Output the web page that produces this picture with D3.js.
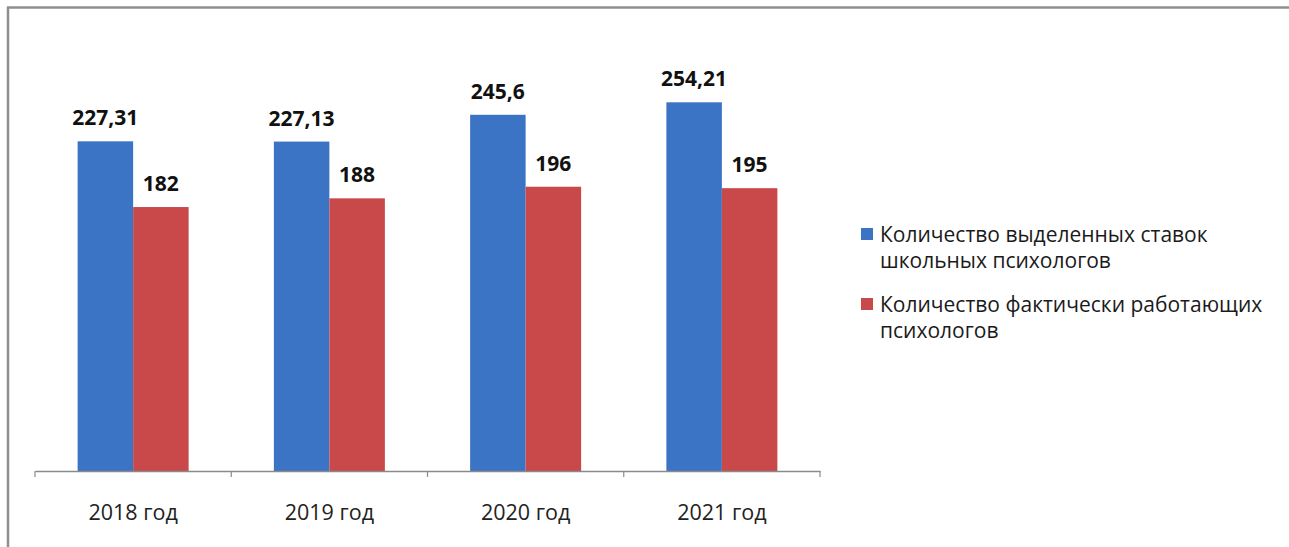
<!DOCTYPE html>
<html><head><meta charset="utf-8">
<script src="https://cdn.jsdelivr.net/npm/d3@7/dist/d3.min.js"></script>
<style>html,body{margin:0;padding:0;background:#fff;}svg{display:block;}</style>
</head><body>
<script>
const categories = ["2018 год", "2019 год", "2020 год", "2021 год"];
const seriesNames = ["Количество выделенных ставок школьных психологов", "Количество фактически работающих психологов"];
const allocated = [227.31, 227.13, 245.6, 254.21];
const working = [182, 188, 196, 195];
const allocatedLabels = ["227,31", "227,13", "245,6", "254,21"];
const workingLabels = ["182", "188", "196", "195"];
const legendLines = [["Количество выделенных ставок", "школьных психологов"], ["Количество фактически работающих", "психологов"]];
const colors = ["#3b74c4", "#c94849"];

const W = 1289, H = 547;
const svg = d3.select("body").append("svg").attr("width", W).attr("height", H);
const font = "'Open Sans', 'Noto Sans', sans-serif";

// frame
svg.append("line").attr("x1", 7).attr("x2", W).attr("y1", 7.5).attr("y2", 7.5).attr("stroke", "#8f8f8f").attr("stroke-width", 2.5);
svg.append("line").attr("x1", 8).attr("x2", 8).attr("y1", 7).attr("y2", H).attr("stroke", "#8f8f8f").attr("stroke-width", 2.5);

const x0 = d3.scaleBand().domain(categories).range([35, 820]).paddingInner(0).paddingOuter(0);
const x1 = d3.scaleBand().domain([0, 1]).range([0, x0.bandwidth()]).paddingInner(0).paddingOuter(0.768);
const y = d3.scaleLinear().domain([0, 300]).range([471, 35.9]);

const data = categories.map((c, i) => ({c, vals: [allocated[i], working[i]], labels: [allocatedLabels[i], workingLabels[i]]}));

const g = svg.append("g");
const groups = g.selectAll("g.cat").data(data).join("g").attr("transform", d => `translate(${x0(d.c)},0)`);
groups.selectAll("rect").data(d => d.vals.map((v, k) => ({v, k}))).join("rect")
  .attr("x", d => x1(d.k)).attr("width", x1.bandwidth())
  .attr("y", d => y(d.v)).attr("height", d => y(0) - y(d.v))
  .attr("fill", d => colors[d.k]);
groups.selectAll("text.val").data(d => d.vals.map((v, k) => ({v, k, t: d.labels[k]}))).join("text")
  .attr("class", "val")
  .attr("x", d => x1(d.k) + x1.bandwidth() / 2).attr("y", d => y(d.v) - 16)
  .attr("text-anchor", "middle").attr("font-family", font).attr("font-weight", "bold")
  .attr("font-size", 21).attr("fill", "#111").text(d => d.t);

// axis
const axis = d3.axisBottom(x0).tickSize(0).tickPadding(0);
const ax = svg.append("g").attr("transform", "translate(0,471)").call(axis);
ax.select(".domain").attr("stroke", "#8a8a8a").attr("stroke-width", 1.5);
ax.selectAll(".tick text").attr("font-family", font).attr("font-size", 21.5).attr("fill", "#222").attr("dy", 0).attr("y", 49);
const tickPos = categories.map(c => x0(c)).concat([x0.range()[1]]);
ax.selectAll("line.sep").data(tickPos).join("line").attr("class", "sep")
  .attr("x1", d => d).attr("x2", d => d).attr("y1", 0).attr("y2", 6)
  .attr("stroke", "#8a8a8a").attr("stroke-width", 1.2);

// legend
const leg = svg.append("g");
const ly = [242, 312];
legendLines.forEach((lines, i) => {
  leg.append("rect").attr("x", 861).attr("y", ly[i] - 14).attr("width", 12).attr("height", 12).attr("fill", colors[i]);
  lines.forEach((t, j) => {
    leg.append("text").attr("x", 880).attr("y", ly[i] + j * 26).attr("font-family", font)
      .attr("font-size", 21).attr("fill", "#1a1a1a").text(t);
  });
});
</script>
</body></html>
